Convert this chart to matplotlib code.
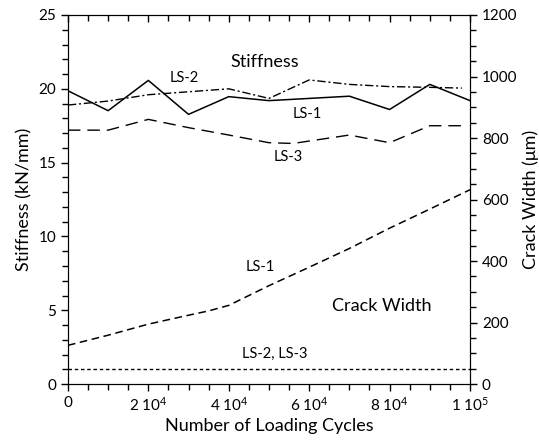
import numpy as np
import matplotlib.pyplot as plt
from matplotlib.ticker import MultipleLocator, FixedLocator

plt.rcParams['font.family'] = ['Lato', 'DejaVu Sans']
plt.rcParams['mathtext.fontset'] = 'custom'
plt.rcParams['mathtext.rm'] = 'Lato'
plt.rcParams['mathtext.it'] = 'Lato:italic'

# Stiffness (kN/mm)
cycles = [0, 10000, 20000, 30000, 40000, 50000, 60000, 70000, 80000, 90000, 100000]
stiff_ls1 = [19.87, 18.52, 20.57, 18.27, 19.47, 19.2, 19.35, 19.5, 18.6, 20.3, 19.2]
cycles_ls2 = [0, 10000, 20000, 30000, 40000, 50000, 60000, 70000, 80000, 90000, 98000]
stiff_ls2 = [18.9, 19.17, 19.6, 19.8, 20.0, 19.35, 20.6, 20.3, 20.15, 20.1, 20.05]
cycles_ls3 = [0, 10000, 20000, 30000, 40000, 50000, 56000, 70000, 80000, 90000, 98000]
stiff_ls3 = [17.2, 17.2, 17.93, 17.37, 16.87, 16.35, 16.3, 16.87, 16.35, 17.5, 17.5]

# Crack width (um)
crack_cycles = [0, 10000, 20000, 30000, 35000, 40000, 45000, 50000, 60000, 70000, 80000, 90000, 100000]
crack_ls1 = [126, 159, 195, 224, 238, 256, 288, 320, 380, 441, 507, 569, 632]
crack_ls23 = [50, 50, 50, 50, 50, 50, 50, 50, 50, 50, 50, 50, 50]

xtick_vals = [0, 20000, 40000, 60000, 80000, 100000]
xtick_labels = ['0', '2 10$^4$', '4 10$^4$', '6 10$^4$', '8 10$^4$', '1 10$^5$']

fig = plt.figure(figsize=(5.39, 4.41), dpi=100)
ax = fig.add_axes([0.126, 0.129, 0.746, 0.837])
ax2 = ax.twinx()

ax.plot(cycles, stiff_ls1, color='black', lw=1.1)
ax.plot(cycles_ls2, stiff_ls2, color='black', lw=1.0, dashes=(6, 2, 1.5, 2))
ax.plot(cycles_ls3, stiff_ls3, color='black', lw=1.0, dashes=(9, 5))

ax2.plot(crack_cycles, crack_ls1, color='black', lw=1.1, dashes=(5, 3))
ax2.plot(crack_cycles, crack_ls23, color='black', lw=1.0, dashes=(2.5, 2))

ax.set_xlim(0, 100000)
ax.set_ylim(0, 25)
ax2.set_ylim(0, 1200)

ax.xaxis.set_major_locator(FixedLocator(xtick_vals))
ax.set_xticklabels(xtick_labels)
ax.xaxis.set_minor_locator(MultipleLocator(5000))
ax.yaxis.set_major_locator(MultipleLocator(5))
ax.yaxis.set_minor_locator(MultipleLocator(1))
ax2.yaxis.set_major_locator(MultipleLocator(200))
ax2.yaxis.set_minor_locator(MultipleLocator(50))

ax.tick_params(axis='both', which='major', direction='out', length=5, labelsize=11, width=1)
ax.tick_params(axis='both', which='minor', direction='out', length=4, width=1)
ax.tick_params(axis='x', which='both', top=True)
ax2.tick_params(axis='y', which='major', direction='out', length=5, labelsize=11, width=1)
ax2.tick_params(axis='y', which='minor', direction='out', length=4, width=1)

# top ticks point inward
for t in ax.xaxis.get_major_ticks() + ax.xaxis.get_minor_ticks():
    t.tick2line.set_marker(3)

ax.set_xlabel('Number of Loading Cycles', fontsize=13, labelpad=3)
ax.set_ylabel('Stiffness (kN/mm)', fontsize=13)
ax2.set_ylabel('Crack Width (\u03bcm)', fontsize=13)

ax.text(49000, 21.8, 'Stiffness', fontsize=13, ha='center', va='center')
ax.text(29000, 20.7, 'LS-2', fontsize=10.5, ha='center', va='center')
ax.text(59500, 18.3, 'LS-1', fontsize=10.5, ha='center', va='center')
ax.text(54700, 15.4, 'LS-3', fontsize=10.5, ha='center', va='center')
ax.text(47800, 7.95, 'LS-1', fontsize=10.5, ha='center', va='center')
ax.text(78000, 5.3, 'Crack Width', fontsize=13, ha='center', va='center')
ax.text(51500, 2.05, 'LS-2, LS-3', fontsize=10.5, ha='center', va='center')

fig.savefig('out.png', dpi=100)
